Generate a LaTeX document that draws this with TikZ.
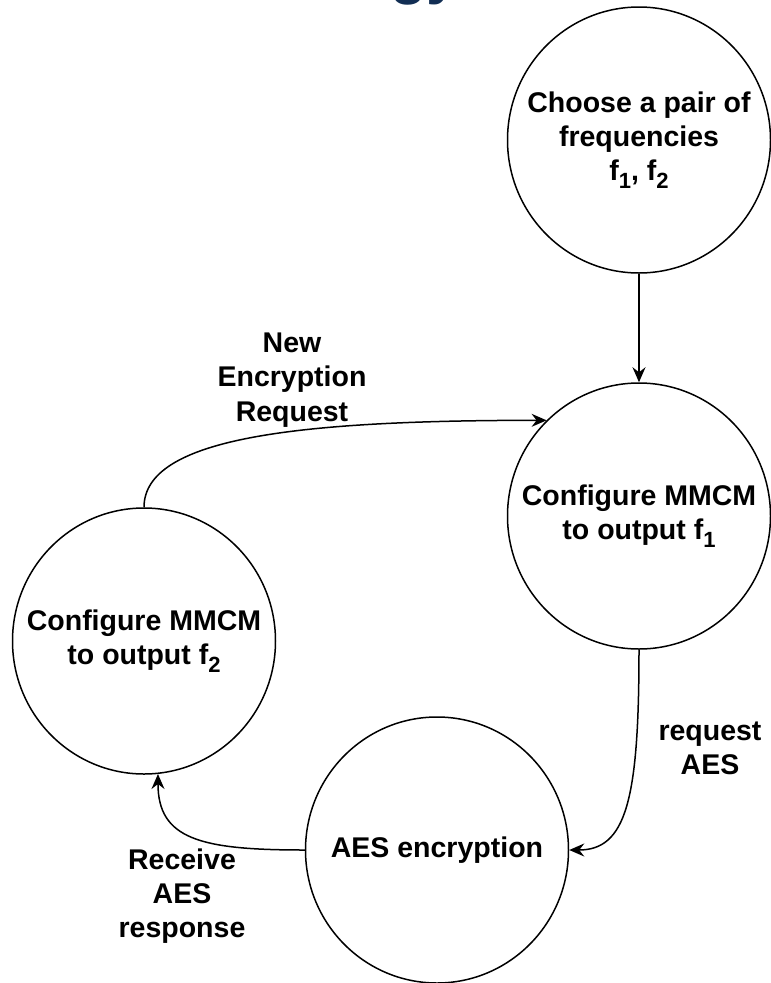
\documentclass[tikz,border=0pt]{standalone}
\usepackage{fontspec}
\setmainfont{Liberation Sans}
\usetikzlibrary{arrows.meta,shapes.geometric}
\definecolor{titlenavy}{RGB}{18,46,84}
\newcommand\subidx[1]{\raisebox{-8pt}{\fontsize{22}{22}\selectfont #1}}
\tikzset{
  state/.style={draw, ellipse, line width=1.5pt, minimum width=263pt,
    minimum height=266pt, inner sep=0pt},
  txt/.style={align=center, inner sep=0pt,
    font=\bfseries\fontsize{28.5}{34.2}\selectfont},
  conn/.style={line width=1.5pt,
    -{Stealth[length=15pt, width=13pt, inset=5pt]}},
}
\begin{document}
\begin{tikzpicture}[x=1pt, y=-1pt]
\useasboundingbox (0,0) rectangle (771,983);
\fill[white] (0,0) rectangle (771,983);

% tail of the slide heading above the picture
\begin{scope}
  \clip (0,0) rectangle (771,983);
  \node[anchor=base west, inner sep=0pt, text=titlenavy,
        font=\bfseries\fontsize{60}{60}\selectfont] (heading) at (390,-8) {gy};
\end{scope}

% states
\node[state] (pick) at (639,140) {};
\node[state] (cfgA) at (639,516) {};
\node[state] (cfgB) at (144,641) {};
\node[state] (aes)  at (437,850) {};

\node[txt] (pickT) at (pick) {Choose a pair of\\frequencies\\f\subidx{1}, f\subidx{2}};
\node[txt] (cfgAT) at (cfgA) {Configure MMCM\\to output f\subidx{1}};
\node[txt] (cfgBT) at (cfgB) {Configure MMCM\\to output f\subidx{2}};
\node[txt] (aesT)  at (aes)  {AES encryption};

% transitions
\draw[conn] (pick.south) -- (cfgA.north);
\draw[conn] (cfgA.south) .. controls +(0,150) and +(57,0) .. (aes.east);
\draw[conn] (aes.west) .. controls +(-105,0) and +(0,65) .. (cfgB.-84);
\draw[conn] (cfgB.north) .. controls +(0,-70) and +(-247,0) .. (cfgA.134);

% transition labels
\node[txt] (lblNew)  at (292,380) {New\\Encryption\\Request};
\node[txt] (lblReq)  at (710,748) {request\\AES};
\node[txt] (lblRecv) at (182,896) {Receive\\AES\\response};
\end{tikzpicture}
\end{document}
